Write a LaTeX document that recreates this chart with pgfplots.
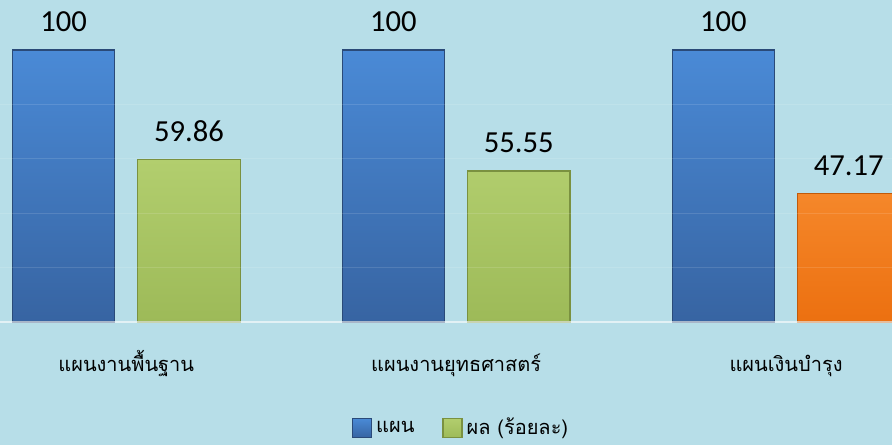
\documentclass[border=0pt]{standalone}
\usepackage{pgfplots}
\pgfplotsset{compat=1.18}
\usepackage{fontspec}
\setmainfont{Carlito}
\newfontfamily\thaifont[Script=Thai]{Loma}
\definecolor{bgc}{HTML}{B7DEE8}
\definecolor{blueT}{HTML}{4A8AD6}
\definecolor{blueB}{HTML}{3764A2}
\definecolor{blueE}{HTML}{2A4A78}
\definecolor{greenT}{HTML}{B2CE6E}
\definecolor{greenB}{HTML}{9DBA58}
\definecolor{greenE}{HTML}{7A9140}
\definecolor{orT}{HTML}{F5872A}
\definecolor{orB}{HTML}{EC7010}
\definecolor{orE}{HTML}{C05A0A}
\begin{document}
\begin{tikzpicture}
\fill[bgc] (0,-61.5pt) rectangle (446pt,161pt);
\useasboundingbox (0,-61.5pt) rectangle (446pt,161pt);
\begin{axis}[
  at={(0,0)}, anchor=south west,
  scale only axis, width=446pt, height=161pt,
  xmin=-0.3827, xmax=2.3212,
  ymin=0, ymax=118.38,
  axis line style={draw=none}, tick style={draw=none},
  ybar, bar width=0.3107,
  ytick=\empty,
  xtick={0,1,2},
  xticklabels={แผนงานพื้นฐาน, แผนงานยุทธศาสตร์, แผนเงินบำรุง},
  xticklabel style={font=\thaifont\fontsize{10}{12}\selectfont, anchor=base, yshift=-24.5pt, inner sep=0pt},
  major tick length=0pt,
  nodes near coords={\pgfmathprintnumber[assume math mode=true]{\pgfplotspointmeta}},
  every node near coord/.append style={font=\fontsize{15.3}{18}\selectfont, text=black, anchor=base, yshift=9pt, inner sep=0pt},
  legend style={at={(0.518,-0.329)}, anchor=center, draw=none, fill=none, legend columns=2,
     font=\thaifont\fontsize{10}{12}\selectfont,
     /tikz/every even column/.append style={column sep=12pt}},
  legend image code/.code={\draw[#1,bar shift=0pt] (0pt,-4.75pt) rectangle (9.5pt,4.75pt);},
]
\addplot[draw=blueE, line width=0.6pt, top color=blueT, bottom color=blueB, bar shift=0pt]
  coordinates {(-0.19,100) (0.81,100) (1.81,100)};
\addplot[draw=greenE, line width=0.6pt, top color=greenT, bottom color=greenB, bar shift=0pt]
  coordinates {(0.19,59.86) (1.19,55.55)};
\addplot[draw=orE, line width=0.6pt, top color=orT, bottom color=orB, bar shift=0pt, forget plot]
  coordinates {(2.19,47.17)};
\legend{แผน, ผล (ร้อยละ)}
\end{axis}
\begin{scope}[x=1pt,y=1pt]
\foreach \yy in {27.2,54.4,81.6,108.8}{\draw[white,opacity=0.12,line width=0.5pt] (0,\yy) -- (446,\yy);}
\draw[white,opacity=0.6,line width=0.8pt] (0,0) -- (446,0);
\end{scope}
\end{tikzpicture}
\end{document}
